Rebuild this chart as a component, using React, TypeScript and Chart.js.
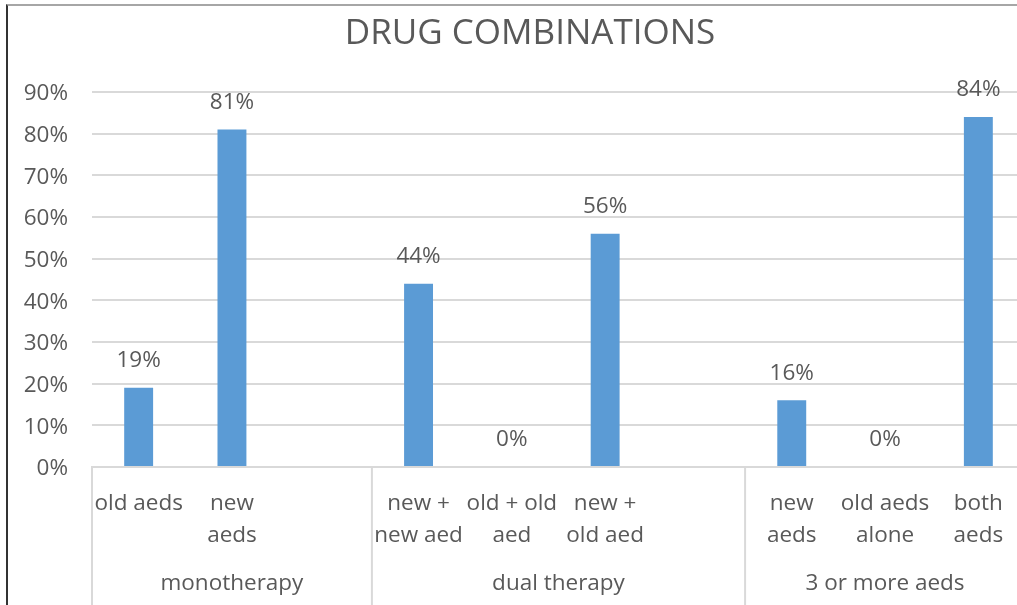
import React, { useEffect, useRef } from "react";
import { Chart, registerables } from "chart.js";

Chart.register(...registerables);

// ---- data ----
const chartTitle = "DRUG COMBINATIONS";
const categoryLabels: (string | string[])[] = [
  "old aeds",
  ["new", "aeds"],
  "",
  ["new +", "new aed"],
  ["old + old", "aed"],
  ["new +", "old aed"],
  "",
  ["new", "aeds"],
  ["old aeds", "alone"],
  ["both", "aeds"],
];
// percent of patients; null = empty slot between groups
const shares: (number | null)[] = [19, 81, null, 44, 0, 56, null, 16, 0, 84];
const groupNames = ["monotherapy", "dual therapy", "3 or more aeds"];
const groupSizes = [3, 4, 3];
const yMax = 90;
const yStep = 10;

// ---- style ----
const FONT = "'Open Sans', 'Noto Sans', sans-serif";
const FS = 22.5;
const TEXT = "#595959";
const GRID = "#d9d9d9";
const BAR = "#5b9bd5";

const decorations = {
  id: "decorations",
  afterDatasetsDraw(chart: any) {
    const ctx = chart.ctx;
    const meta = chart.getDatasetMeta(0);
    ctx.save();
    ctx.fillStyle = TEXT;
    ctx.font = `${FS}px ${FONT}`;
    ctx.textAlign = "center";
    ctx.textBaseline = "middle";
    meta.data.forEach((el: any, i: number) => {
      const v = shares[i];
      if (v === null || v === undefined) return;
      ctx.fillText(`${v}%`, el.x, el.y - 27);
    });
    ctx.restore();
  },
  afterDraw(chart: any) {
    const ctx = chart.ctx;
    const xs = chart.scales.x;
    const area = chart.chartArea;
    const step = xs.getPixelForValue(1) - xs.getPixelForValue(0);
    ctx.save();
    // title
    ctx.fillStyle = TEXT;
    ctx.font = `35px ${FONT}`;
    ctx.textAlign = "center";
    ctx.textBaseline = "middle";
    ctx.fillText(chartTitle, 530, 34);

    // group dividers and group labels
    ctx.strokeStyle = GRID;
    ctx.lineWidth = 2;
    ctx.font = `${FS}px ${FONT}`;
    let start = 0;
    groupSizes.forEach((n, gi) => {
      const left = xs.getPixelForValue(start) - step / 2;
      const right = xs.getPixelForValue(start + n - 1) + step / 2;
      ctx.beginPath();
      ctx.moveTo(left, area.bottom);
      ctx.lineTo(left, chart.height);
      ctx.stroke();
      if (gi === groupSizes.length - 1) {
        ctx.beginPath();
        ctx.moveTo(right, area.bottom);
        ctx.lineTo(right, chart.height);
        ctx.stroke();
      }
      ctx.fillText(groupNames[gi], (left + right) / 2, 584);
      start += n;
    });
    ctx.restore();
  },
};

export default function App() {
  const ref = useRef<HTMLCanvasElement | null>(null);

  useEffect(() => {
    if (!ref.current) return;
    const chart = new Chart(ref.current, {
      type: "bar",
      data: {
        labels: categoryLabels,
        datasets: [
          {
            data: shares,
            backgroundColor: BAR,
            borderWidth: 0,
            barPercentage: 0.31,
            categoryPercentage: 1,
          },
        ],
      },
      options: {
        responsive: false,
        animation: false,
        layout: { padding: { top: 92, left: 0, right: 0, bottom: 0 } },
        plugins: {
          legend: { display: false },
          title: { display: false },
          tooltip: { enabled: false },
        },
        scales: {
          x: {
            grid: { display: false, drawTicks: false },
            border: { display: true, color: GRID, width: 2 },
            ticks: {
              autoSkip: false,
              maxRotation: 0,
              padding: 21,
              color: TEXT,
              font: { family: FONT, size: FS, lineHeight: "32px" } as any,
            },
            afterFit(scale: any) {
              scale.height = 138;
            },
          },
          y: {
            min: 0,
            max: yMax,
            grid: { color: GRID, lineWidth: 2, drawTicks: false },
            border: { display: false },
            ticks: {
              stepSize: yStep,
              padding: 24,
              labelOffset: 2,
              color: TEXT,
              font: { family: FONT, size: FS },
              callback: (v: any) => `${v}%`,
            },
            afterFit(scale: any) {
              scale.width = 92;
            },
          },
        },
      },
      plugins: [decorations],
    });
    return () => chart.destroy();
  }, []);

  return (
    <div
      style={{
        position: "fixed",
        left: 0,
        top: 0,
        width: 1017,
        height: 605,
        overflow: "hidden",
        background: "#ffffff",
      }}
    >
      <div
        style={{
          position: "absolute",
          left: 6,
          top: 4,
          width: 1100,
          height: 700,
          borderLeft: "2px solid #333333",
          borderTop: "2px solid #a6a6a6",
        }}
      />
      <canvas
        ref={ref}
        width={1025}
        height={605}
        style={{ position: "absolute", left: 0, top: 0, display: "block" }}
      />
    </div>
  );
}
